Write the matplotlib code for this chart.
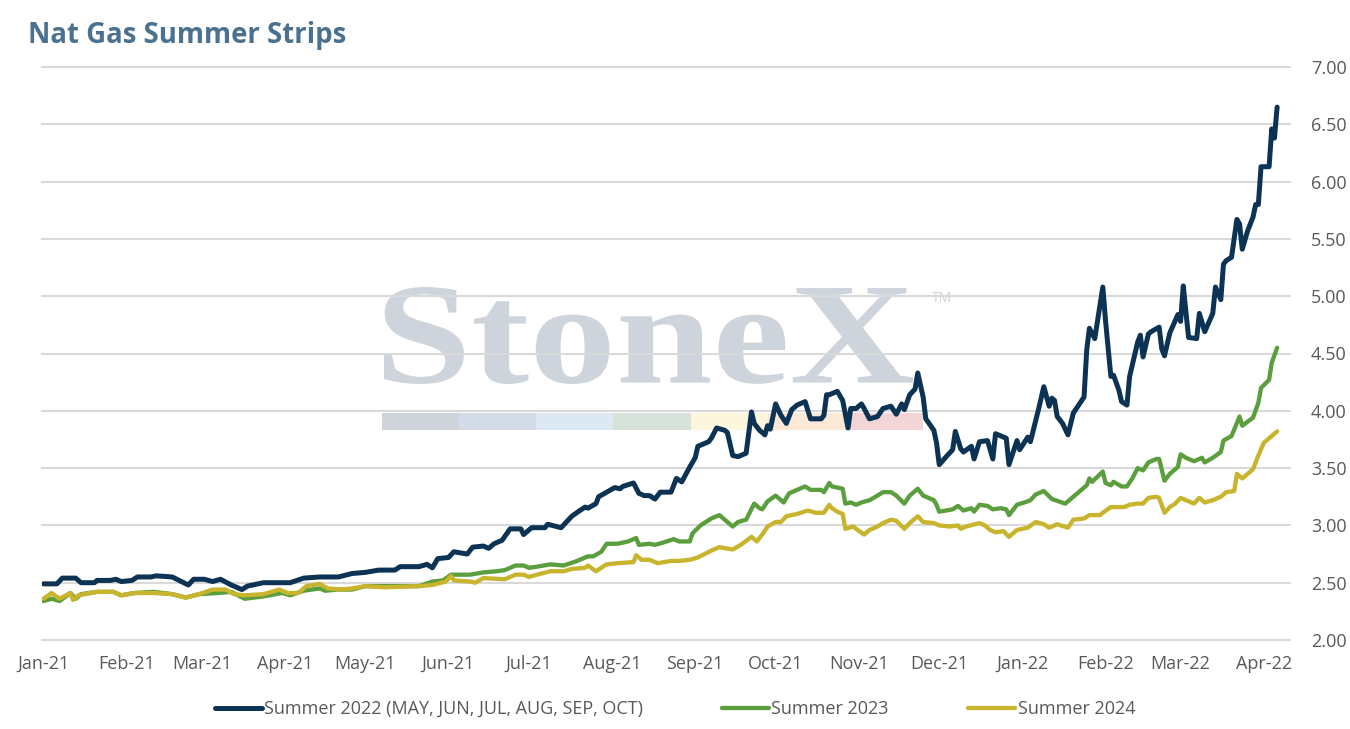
import numpy as np
import pandas as pd
import matplotlib
matplotlib.use('Agg')
import matplotlib.pyplot as plt
import matplotlib.dates as mdates
from matplotlib.textpath import TextPath
from matplotlib.font_manager import FontProperties
from matplotlib.patches import PathPatch, Rectangle
from matplotlib.transforms import Affine2D

# Summer 2022 strip (May-Oct)
fechas_2022 = [
    '2021-01-01', '2021-01-06', '2021-01-08', '2021-01-13', '2021-01-15', '2021-01-20', '2021-01-21',
    '2021-01-26', '2021-01-28', '2021-01-30', '2021-02-03', '2021-02-05', '2021-02-10', '2021-02-12',
    '2021-02-18', '2021-02-24', '2021-02-26', '2021-03-02', '2021-03-05', '2021-03-08', '2021-03-12',
    '2021-03-16', '2021-03-18', '2021-03-24', '2021-03-29', '2021-04-03', '2021-04-08', '2021-04-14',
    '2021-04-21', '2021-04-26', '2021-05-01', '2021-05-06', '2021-05-12', '2021-05-14', '2021-05-21',
    '2021-05-24', '2021-05-26', '2021-05-28', '2021-06-01', '2021-06-03', '2021-06-08', '2021-06-10',
    '2021-06-14', '2021-06-16', '2021-06-18', '2021-06-21', '2021-06-24', '2021-06-28', '2021-06-29',
    '2021-07-02', '2021-07-07', '2021-07-08', '2021-07-13', '2021-07-17', '2021-07-20', '2021-07-22',
    '2021-07-23', '2021-07-26', '2021-07-27', '2021-07-30', '2021-08-02', '2021-08-04', '2021-08-05',
    '2021-08-09', '2021-08-11', '2021-08-13', '2021-08-15', '2021-08-17', '2021-08-19', '2021-08-23',
    '2021-08-25', '2021-08-27', '2021-08-30', '2021-09-01', '2021-09-02', '2021-09-06', '2021-09-07',
    '2021-09-09', '2021-09-12', '2021-09-13', '2021-09-15', '2021-09-17', '2021-09-20', '2021-09-22',
    '2021-09-23', '2021-09-25', '2021-09-27', '2021-09-28', '2021-09-29', '2021-10-01', '2021-10-03',
    '2021-10-05', '2021-10-07', '2021-10-09', '2021-10-12', '2021-10-14', '2021-10-18', '2021-10-19',
    '2021-10-20', '2021-10-21', '2021-10-24', '2021-10-26', '2021-10-28', '2021-10-29', '2021-10-31',
    '2021-11-02', '2021-11-03', '2021-11-05', '2021-11-08', '2021-11-10', '2021-11-13', '2021-11-15',
    '2021-11-17', '2021-11-18', '2021-11-20', '2021-11-22', '2021-11-23', '2021-11-25', '2021-11-26',
    '2021-11-29', '2021-11-30', '2021-12-01', '2021-12-04', '2021-12-06', '2021-12-07', '2021-12-09',
    '2021-12-10', '2021-12-13', '2021-12-14', '2021-12-16', '2021-12-19', '2021-12-21', '2021-12-22',
    '2021-12-26', '2021-12-27', '2021-12-30', '2021-12-31', '2022-01-03', '2022-01-04', '2022-01-07',
    '2022-01-09', '2022-01-11', '2022-01-12', '2022-01-13', '2022-01-14', '2022-01-16', '2022-01-18',
    '2022-01-20', '2022-01-22', '2022-01-24', '2022-01-25', '2022-01-26', '2022-01-28', '2022-01-31',
    '2022-02-01', '2022-02-03', '2022-02-04', '2022-02-06', '2022-02-07', '2022-02-09', '2022-02-10',
    '2022-02-13', '2022-02-14', '2022-02-15', '2022-02-17', '2022-02-18', '2022-02-21', '2022-02-22',
    '2022-02-23', '2022-02-25', '2022-02-28', '2022-03-01', '2022-03-02', '2022-03-03', '2022-03-04',
    '2022-03-07', '2022-03-08', '2022-03-10', '2022-03-13', '2022-03-14', '2022-03-16', '2022-03-17',
    '2022-03-18', '2022-03-20', '2022-03-22', '2022-03-23', '2022-03-24', '2022-03-26', '2022-03-28',
    '2022-03-29', '2022-03-30', '2022-03-31', '2022-04-03', '2022-04-04', '2022-04-05', '2022-04-06',
]
summer_2022 = [
    2.49, 2.49, 2.54, 2.54, 2.50, 2.50, 2.52,
    2.52, 2.53, 2.51, 2.52, 2.55, 2.55, 2.56,
    2.55, 2.48, 2.53, 2.53, 2.51, 2.53, 2.48,
    2.44, 2.47, 2.50, 2.50, 2.50, 2.54, 2.55,
    2.55, 2.58, 2.59, 2.61, 2.61, 2.64, 2.64,
    2.66, 2.63, 2.71, 2.72, 2.77, 2.75, 2.81,
    2.82, 2.80, 2.84, 2.87, 2.97, 2.97, 2.92,
    2.98, 2.98, 3.01, 2.98, 3.08, 3.13, 3.16,
    3.15, 3.19, 3.25, 3.29, 3.33, 3.32, 3.34,
    3.37, 3.28, 3.26, 3.26, 3.23, 3.29, 3.29,
    3.41, 3.38, 3.51, 3.59, 3.69, 3.73, 3.76,
    3.85, 3.83, 3.81, 3.61, 3.60, 3.63, 3.99,
    3.89, 3.83, 3.79, 3.87, 3.84, 4.06, 3.96,
    3.89, 4.01, 4.05, 4.08, 3.93, 3.93, 3.96,
    4.14, 4.14, 4.17, 4.09, 3.85, 4.02, 4.02,
    4.06, 4.02, 3.93, 3.95, 4.02, 4.04, 3.97,
    4.06, 4.01, 4.14, 4.19, 4.33, 4.12, 3.93,
    3.83, 3.72, 3.53, 3.61, 3.66, 3.82, 3.67,
    3.64, 3.69, 3.58, 3.73, 3.74, 3.58, 3.80,
    3.76, 3.53, 3.74, 3.66, 3.77, 3.73, 4.01,
    4.21, 4.04, 4.11, 4.09, 3.95, 3.89, 3.79,
    3.98, 4.05, 4.12, 4.53, 4.72, 4.63, 5.08,
    4.79, 4.30, 4.31, 4.18, 4.08, 4.05, 4.30,
    4.60, 4.66, 4.47, 4.67, 4.69, 4.73, 4.54,
    4.48, 4.68, 4.84, 4.78, 5.09, 4.86, 4.64,
    4.63, 4.85, 4.69, 4.85, 5.08, 4.97, 5.28,
    5.31, 5.34, 5.67, 5.63, 5.41, 5.57, 5.69,
    5.80, 5.80, 6.13, 6.13, 6.46, 6.38, 6.65,
]

# Summer 2023 strip
fechas_2023 = [
    '2021-01-01', '2021-01-04', '2021-01-07', '2021-01-11', '2021-01-13', '2021-01-15', '2021-01-21',
    '2021-01-27', '2021-01-30', '2021-02-04', '2021-02-11', '2021-02-18', '2021-02-23', '2021-02-28',
    '2021-03-07', '2021-03-12', '2021-03-17', '2021-03-24', '2021-03-31', '2021-04-03', '2021-04-08',
    '2021-04-14', '2021-04-16', '2021-04-21', '2021-04-26', '2021-05-01', '2021-05-08', '2021-05-21',
    '2021-05-26', '2021-05-30', '2021-06-02', '2021-06-09', '2021-06-14', '2021-06-19', '2021-06-22',
    '2021-06-26', '2021-06-29', '2021-07-01', '2021-07-04', '2021-07-09', '2021-07-14', '2021-07-19',
    '2021-07-23', '2021-07-25', '2021-07-28', '2021-07-30', '2021-08-03', '2021-08-07', '2021-08-10',
    '2021-08-11', '2021-08-15', '2021-08-17', '2021-08-20', '2021-08-24', '2021-08-26', '2021-08-30',
    '2021-08-31', '2021-09-03', '2021-09-07', '2021-09-10', '2021-09-13', '2021-09-15', '2021-09-17',
    '2021-09-20', '2021-09-23', '2021-09-25', '2021-09-26', '2021-09-28', '2021-10-01', '2021-10-03',
    '2021-10-04', '2021-10-06', '2021-10-09', '2021-10-12', '2021-10-14', '2021-10-18', '2021-10-19',
    '2021-10-21', '2021-10-22', '2021-10-26', '2021-10-27', '2021-10-29', '2021-10-31', '2021-11-02',
    '2021-11-05', '2021-11-08', '2021-11-10', '2021-11-13', '2021-11-15', '2021-11-18', '2021-11-20',
    '2021-11-23', '2021-11-25', '2021-11-29', '2021-11-30', '2021-12-01', '2021-12-06', '2021-12-08',
    '2021-12-10', '2021-12-13', '2021-12-14', '2021-12-16', '2021-12-19', '2021-12-21', '2021-12-24',
    '2021-12-26', '2021-12-27', '2021-12-30', '2022-01-03', '2022-01-04', '2022-01-06', '2022-01-09',
    '2022-01-12', '2022-01-17', '2022-01-21', '2022-01-25', '2022-01-26', '2022-01-27', '2022-01-31',
    '2022-02-01', '2022-02-03', '2022-02-04', '2022-02-07', '2022-02-09', '2022-02-11', '2022-02-13',
    '2022-02-15', '2022-02-17', '2022-02-20', '2022-02-21', '2022-02-23', '2022-02-25', '2022-02-28',
    '2022-03-01', '2022-03-03', '2022-03-06', '2022-03-09', '2022-03-10', '2022-03-13', '2022-03-16',
    '2022-03-17', '2022-03-20', '2022-03-23', '2022-03-24', '2022-03-28', '2022-03-30', '2022-03-31',
    '2022-04-03', '2022-04-04', '2022-04-06',
]
summer_2023 = [
    2.34, 2.36, 2.34, 2.41, 2.36, 2.40, 2.42,
    2.42, 2.39, 2.41, 2.42, 2.40, 2.37, 2.40,
    2.41, 2.42, 2.36, 2.38, 2.41, 2.39, 2.43,
    2.45, 2.43, 2.44, 2.44, 2.47, 2.47, 2.47,
    2.51, 2.52, 2.57, 2.57, 2.59, 2.60, 2.61,
    2.65, 2.65, 2.63, 2.64, 2.66, 2.65, 2.69,
    2.73, 2.73, 2.77, 2.84, 2.84, 2.86, 2.89,
    2.83, 2.84, 2.83, 2.85, 2.88, 2.86, 2.86,
    2.93, 3.00, 3.06, 3.09, 3.03, 2.99, 3.03,
    3.05, 3.19, 3.15, 3.14, 3.21, 3.26, 3.22,
    3.20, 3.28, 3.31, 3.34, 3.31, 3.31, 3.29,
    3.37, 3.34, 3.32, 3.19, 3.20, 3.18, 3.20,
    3.22, 3.26, 3.29, 3.29, 3.26, 3.19, 3.26,
    3.32, 3.26, 3.22, 3.18, 3.12, 3.14, 3.17,
    3.13, 3.15, 3.12, 3.18, 3.17, 3.14, 3.15,
    3.14, 3.09, 3.18, 3.21, 3.22, 3.27, 3.30,
    3.23, 3.19, 3.27, 3.35, 3.41, 3.38, 3.47,
    3.37, 3.35, 3.38, 3.34, 3.34, 3.41, 3.50,
    3.48, 3.55, 3.58, 3.58, 3.39, 3.45, 3.51,
    3.62, 3.59, 3.56, 3.59, 3.55, 3.59, 3.64,
    3.74, 3.78, 3.95, 3.87, 3.94, 4.07, 4.20,
    4.27, 4.42, 4.55,
]

# Summer 2024 strip
fechas_2024 = [
    '2021-01-01', '2021-01-04', '2021-01-07', '2021-01-11', '2021-01-12', '2021-01-14', '2021-01-21',
    '2021-01-27', '2021-01-30', '2021-02-04', '2021-02-11', '2021-02-18', '2021-02-23', '2021-02-28',
    '2021-03-05', '2021-03-10', '2021-03-13', '2021-03-17', '2021-03-24', '2021-03-30', '2021-04-02',
    '2021-04-06', '2021-04-09', '2021-04-14', '2021-04-17', '2021-04-22', '2021-04-26', '2021-05-01',
    '2021-05-08', '2021-05-21', '2021-05-26', '2021-05-31', '2021-06-02', '2021-06-03', '2021-06-09',
    '2021-06-11', '2021-06-14', '2021-06-22', '2021-06-26', '2021-06-29', '2021-07-01', '2021-07-04',
    '2021-07-09', '2021-07-14', '2021-07-17', '2021-07-22', '2021-07-23', '2021-07-26', '2021-07-30',
    '2021-08-03', '2021-08-09', '2021-08-10', '2021-08-12', '2021-08-15', '2021-08-18', '2021-08-23',
    '2021-08-26', '2021-08-30', '2021-09-02', '2021-09-07', '2021-09-10', '2021-09-15', '2021-09-18',
    '2021-09-22', '2021-09-24', '2021-09-26', '2021-09-28', '2021-10-01', '2021-10-03', '2021-10-05',
    '2021-10-09', '2021-10-13', '2021-10-16', '2021-10-19', '2021-10-21', '2021-10-22', '2021-10-24',
    '2021-10-26', '2021-10-27', '2021-10-30', '2021-10-31', '2021-11-03', '2021-11-05', '2021-11-08',
    '2021-11-10', '2021-11-13', '2021-11-15', '2021-11-18', '2021-11-20', '2021-11-23', '2021-11-25',
    '2021-11-29', '2021-12-01', '2021-12-05', '2021-12-08', '2021-12-09', '2021-12-11', '2021-12-16',
    '2021-12-18', '2021-12-20', '2021-12-22', '2021-12-25', '2021-12-27', '2021-12-30', '2022-01-03',
    '2022-01-06', '2022-01-09', '2022-01-11', '2022-01-14', '2022-01-18', '2022-01-20', '2022-01-24',
    '2022-01-26', '2022-01-30', '2022-01-31', '2022-02-03', '2022-02-08', '2022-02-10', '2022-02-13',
    '2022-02-15', '2022-02-17', '2022-02-20', '2022-02-21', '2022-02-23', '2022-02-25', '2022-02-27',
    '2022-03-01', '2022-03-06', '2022-03-08', '2022-03-10', '2022-03-13', '2022-03-16', '2022-03-18',
    '2022-03-21', '2022-03-22', '2022-03-24', '2022-03-28', '2022-03-30', '2022-04-01', '2022-04-04',
    '2022-04-06',
]
summer_2024 = [
    2.36, 2.41, 2.36, 2.41, 2.35, 2.39, 2.42,
    2.42, 2.39, 2.41, 2.41, 2.40, 2.37, 2.40,
    2.44, 2.44, 2.40, 2.39, 2.40, 2.44, 2.41,
    2.41, 2.47, 2.49, 2.45, 2.44, 2.45, 2.47,
    2.46, 2.47, 2.48, 2.51, 2.56, 2.52, 2.51,
    2.50, 2.54, 2.53, 2.57, 2.57, 2.55, 2.57,
    2.60, 2.60, 2.62, 2.63, 2.65, 2.60, 2.66,
    2.67, 2.68, 2.74, 2.70, 2.70, 2.67, 2.69,
    2.69, 2.70, 2.72, 2.78, 2.81, 2.79, 2.83,
    2.90, 2.86, 2.92, 2.99, 3.03, 3.03, 3.08,
    3.10, 3.13, 3.11, 3.11, 3.18, 3.15, 3.12,
    3.10, 2.97, 2.99, 2.97, 2.92, 2.96, 2.99,
    3.02, 3.05, 3.04, 2.97, 3.02, 3.08, 3.03,
    3.02, 3.00, 2.99, 3.00, 2.97, 2.99, 3.02,
    3.00, 2.96, 2.94, 2.95, 2.90, 2.96, 2.98,
    3.03, 3.01, 2.98, 3.01, 2.98, 3.05, 3.06,
    3.09, 3.09, 3.11, 3.16, 3.16, 3.18, 3.19,
    3.19, 3.24, 3.25, 3.24, 3.11, 3.16, 3.19,
    3.24, 3.19, 3.24, 3.20, 3.22, 3.25, 3.29,
    3.30, 3.45, 3.41, 3.49, 3.61, 3.72, 3.78,
    3.82,
]

series = [
    ('Summer 2022 (MAY, JUN, JUL, AUG, SEP, OCT)', fechas_2022, summer_2022, '#0c3354', 3.6),
    ('Summer 2023', fechas_2023, summer_2023, '#5b9e3d', 3.1),
    ('Summer 2024', fechas_2024, summer_2024, '#c8b42d', 3.1),
]

plt.rcParams['font.family'] = ['Open Sans', 'DejaVu Sans']

W, H = 1350, 729
fig = plt.figure(figsize=(W / 100, H / 100), dpi=100)
fig.patch.set_facecolor('white')

# watermark behind the plot: StoneX logo + colour bar
marca = '#cdd4dc'
tp = TextPath((0, 0), 'StoneX', size=100,
              prop=FontProperties(family='Liberation Serif', weight='bold'))
bb = tp.get_extents()
x0, x1, y0, y1 = 384, 913, 384, 287
aff = (Affine2D().translate(-bb.x0, -bb.y0)
       .scale((x1 - x0) / bb.width / W, (y0 - y1) / bb.height / H)
       .translate(x0 / W, 1 - y0 / H))
fig.add_artist(PathPatch(tp, transform=aff + fig.transFigure, facecolor=marca,
                         edgecolor='none', zorder=-5))
fig.text(932 / W, 1 - 298 / H, 'TM', fontsize=10, color=marca, va='center', zorder=-5)
barra = ['#cfd4db', '#d2dbe6', '#dce8f2', '#d4e2da', '#fbf6dc', '#fbe8d6', '#f3d5d8']
for i, c in enumerate(barra):
    fig.add_artist(Rectangle(((381.5 + i * 77.3) / W, 1 - 430 / H), 77.3 / W, 17 / H,
                             transform=fig.transFigure, facecolor=c, edgecolor='none',
                             zorder=-5))

ax = fig.add_axes([42 / W, 1 - 640 / H, (1290 - 42) / W, (640 - 67) / H])
ax.set_facecolor('none')

lineas = []
for nombre, fechas, valores, color, lw in series:
    l, = ax.plot(pd.to_datetime(fechas), valores, color=color, lw=lw, label=nombre,
                 solid_joinstyle='round', solid_capstyle='round', zorder=3)
    lineas.append(l)

inicio = pd.Timestamp('2021-01-01')
ax.set_xlim(inicio - pd.Timedelta(days=0.56), inicio + pd.Timedelta(days=464.8))
ax.set_ylim(2, 7)
ax.set_yticks(np.arange(2, 7.01, 0.5))
ax.yaxis.set_major_formatter(plt.FormatStrFormatter('%.2f'))
ax.yaxis.tick_right()
ax.xaxis.set_major_locator(mdates.MonthLocator())
ax.xaxis.set_major_formatter(mdates.DateFormatter('%b-%y'))
ax.tick_params(axis='both', length=0, labelsize=13, colors='#595959')
ax.tick_params(axis='y', pad=15)
ax.tick_params(axis='x', pad=11)

ax.grid(axis='y', color='#d9d9d9', lw=1.5)
ax.set_axisbelow(True)
for gl in ax.get_ygridlines():
    gl.set_clip_on(False)
for s in ax.spines.values():
    s.set_visible(False)

fig.text(28 / W, 1 - 35 / H, 'Nat Gas Summer Strips', fontsize=19.8, fontweight='bold',
         color='#4a7290', va='center')

fig.legend(handles=lineas, loc='center', bbox_to_anchor=(0.5, 1 - 709 / H), ncol=3,
           frameon=False, fontsize=13, handlelength=2.6, handletextpad=0.12,
           columnspacing=4.4, labelcolor='#595959')

fig.savefig('out.png', dpi=100)
